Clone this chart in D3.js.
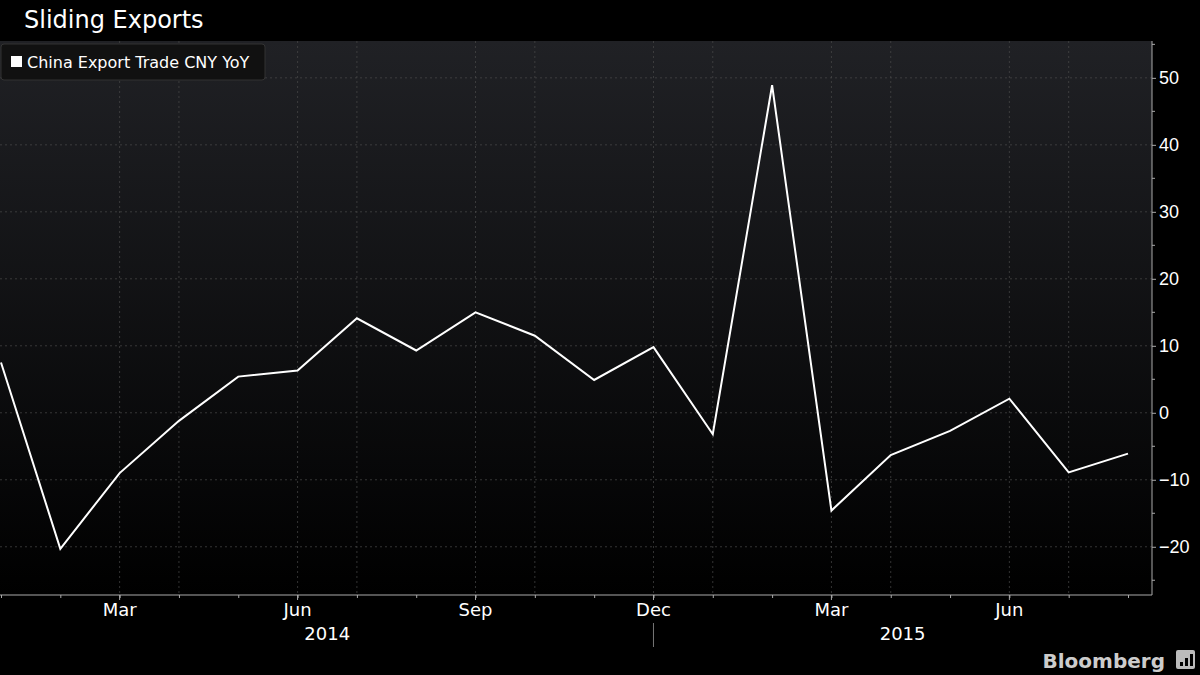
<!DOCTYPE html>
<html><head><meta charset="utf-8">
<script src="https://cdn.jsdelivr.net/npm/d3@7"></script>
<style>body{margin:0;background:#000}svg{display:block}</style>
</head><body>
<svg id="chart"></svg>
<script>
// data: monthly, Jan 2014 .. Aug 2015
const months = ["Jan","Feb","Mar","Apr","May","Jun","Jul","Aug","Sep","Oct","Nov","Dec",
                "Jan","Feb","Mar","Apr","May","Jun","Jul","Aug"];
const values = [7.5,-20.3,-9,-1.2,5.4,6.3,14.1,9.3,15,11.5,4.9,9.8,-3.2,48.9,-14.6,-6.3,-2.7,2.1,-8.9,-6.1];
const yTicks = [-20,-10,0,10,20,30,40,50];
const xLabelIdx = [2,5,8,11,14,17];
const years = [{label:"2014", pos:5.5},{label:"2015", pos:15.2}];

const W = 1200, H = 675;
const plot = {left: 0, right: 1152, top: 41, bottom: 595};
const data = values.map((v, i) => ({i: i, v: v}));

const svg = d3.select('#chart').attr('width', W).attr('height', H)
  .style('font-family', '"DejaVu Sans", sans-serif');

const defs = svg.append('defs');
const grad = defs.append('linearGradient').attr('id', 'bg').attr('x1', 0).attr('x2', 0).attr('y1', 0).attr('y2', 1);
grad.append('stop').attr('offset', '0%').attr('stop-color', '#202125');
grad.append('stop').attr('offset', '100%').attr('stop-color', '#000');

svg.append('rect').attr('width', W).attr('height', H).attr('fill', '#000');
svg.append('rect').attr('x', plot.left).attr('y', plot.top)
  .attr('width', plot.right - plot.left).attr('height', plot.bottom - plot.top)
  .attr('fill', 'url(#bg)');

// scales (evenly spaced months)
const x = d3.scaleLinear().domain([0, 19]).range([1, 1128]);
const y = d3.scaleLinear().domain([-27.2, 55.5]).range([plot.bottom, plot.top]);

// grid
const grid = svg.append('g').attr('stroke', '#4a4a4a').attr('stroke-dasharray', '2,3').attr('stroke-width', 0.7);
yTicks.forEach(t => grid.append('line').attr('x1', plot.left).attr('x2', plot.right).attr('y1', y(t)).attr('y2', y(t)));
d3.range(2, 20).filter(i => i % 3 !== 1 || true).filter(i => (i + 1) % 3 !== 0 || xLabelIdx.includes(i)).forEach(i => {
  if (i % 3 === 2 || i % 3 === 0) grid.append('line').attr('x1', x(i)).attr('x2', x(i)).attr('y1', plot.top).attr('y2', plot.bottom);
});

// axes
svg.append('line').attr('x1', plot.left).attr('x2', plot.right).attr('y1', plot.bottom).attr('y2', plot.bottom).attr('stroke', '#aaa');
svg.append('line').attr('x1', plot.right).attr('x2', plot.right).attr('y1', plot.top).attr('y2', plot.bottom).attr('stroke', '#aaa');

const yAxis = svg.append('g').attr('transform', `translate(${plot.right},0)`)
  .call(d3.axisRight(y).tickValues(yTicks).tickSize(4).tickPadding(3).tickFormat(d => d < 0 ? '\u2212' + (-d) : d));
yAxis.select('.domain').remove();
yAxis.selectAll('line').attr('stroke', '#aaa');
yAxis.selectAll('text').attr('fill', '#fff').style('font-size', '18px');
d3.range(-25, 56, 5).filter(t => t % 10 !== 0).forEach(t =>
  svg.append('line').attr('x1', plot.right).attr('x2', plot.right + 3).attr('y1', y(t)).attr('y2', y(t)).attr('stroke', '#aaa'));

const xAxis = svg.append('g').attr('transform', `translate(0,${plot.bottom})`)
  .call(d3.axisBottom(x).tickValues(d3.range(0, 20)).tickSize(3).tickFormat(''));
xAxis.select('.domain').remove();
xAxis.selectAll('line').attr('stroke', '#aaa');
xLabelIdx.forEach(i => {
  svg.append('line').attr('x1', x(i)).attr('x2', x(i)).attr('y1', plot.bottom).attr('y2', plot.bottom + 5).attr('stroke', '#aaa');
  svg.append('text').attr('x', x(i)).attr('y', plot.bottom + 21).attr('text-anchor', 'middle')
    .attr('fill', '#fff').style('font-size', '18px').text(months[i]);
});
years.forEach(yr => svg.append('text').attr('x', x(yr.pos)).attr('y', plot.bottom + 45)
  .attr('text-anchor', 'middle').attr('fill', '#fff').style('font-size', '18px').text(yr.label));
svg.append('line').attr('x1', x(11)).attr('x2', x(11))
  .attr('y1', plot.bottom + 28).attr('y2', plot.bottom + 52).attr('stroke', '#777');

// line
svg.append('path').datum(data)
  .attr('d', d3.line().x(d => x(d.i)).y(d => y(d.v)))
  .attr('fill', 'none').attr('stroke', '#fff').attr('stroke-width', 2);

// title & legend
svg.append('text').attr('x', 24).attr('y', 28).attr('fill', '#fff').style('font-size', '24px').text('Sliding Exports');
svg.append('rect').attr('x', 1).attr('y', 44).attr('width', 264).attr('height', 36).attr('rx', 3)
  .attr('fill', '#111').attr('stroke', '#333');
svg.append('rect').attr('x', 11).attr('y', 56).attr('width', 11).attr('height', 11).attr('fill', '#fff');
svg.append('text').attr('x', 27).attr('y', 68).attr('fill', '#fff').style('font-size', '16px').text('China Export Trade CNY YoY');

// brand
svg.append('text').attr('x', 1165).attr('y', 668).attr('text-anchor', 'end').attr('fill', '#ccc')
  .style('font-size', '20px').style('font-weight', 'bold').text('Bloomberg');
svg.append('rect').attr('x', 1176).attr('y', 650).attr('width', 19).attr('height', 19).attr('rx', 2).attr('fill', '#bbb');
[[1180,4],[1185,8],[1190,12]].forEach(([bx, h]) =>
  svg.append('rect').attr('x', bx).attr('y', 666 - h).attr('width', 3).attr('height', h).attr('fill', '#000'));
</script>
</body></html>
